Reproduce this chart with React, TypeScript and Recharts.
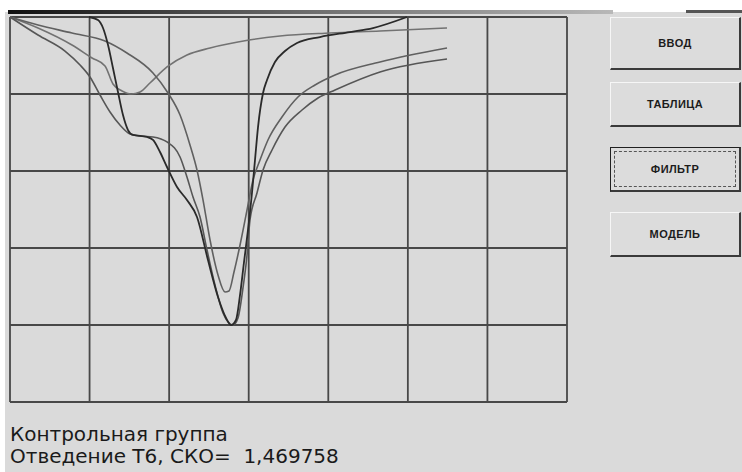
import React from "react";
import { LineChart, Line, XAxis, YAxis, ReferenceLine } from "recharts";

// Grid divisions (time along x, amplitude along y, 0 at the top edge)
const xTicks = [0, 1, 2, 3, 4, 5, 6, 7];
const yTicks = [0, -1, -2, -3, -4, -5];

// Traces as [x, y] pairs in grid units
const traceShallowDip: [number, number][] = [
  [0, 0], [0.352, -0.143], [0.779, -0.364], [1.031, -0.532], [1.194, -0.636],
  [1.294, -0.87], [1.408, -0.961], [1.521, -1.0], [1.634, -0.974], [1.759, -0.857],
  [1.973, -0.649], [2.224, -0.494], [2.514, -0.403], [3.004, -0.299], [3.393, -0.247],
  [4.022, -0.208], [4.65, -0.182], [5.492, -0.143],
];

const traceLate: [number, number][] = [
  [0, 0], [0.352, -0.104], [0.779, -0.208], [1.194, -0.312], [1.47, -0.468],
  [1.797, -0.727], [1.986, -0.987], [2.137, -1.273], [2.262, -1.662], [2.35, -1.987],
  [2.426, -2.377], [2.514, -2.896], [2.614, -3.351], [2.702, -3.571], [2.752, -3.558],
  [2.815, -3.312], [2.891, -2.961], [2.979, -2.506], [3.054, -2.117], [3.142, -1.857],
  [3.242, -1.597], [3.418, -1.299], [3.619, -1.039], [3.833, -0.883], [4.085, -0.753],
  [4.65, -0.584], [5.492, -0.403],
];

const tracePlateau: [number, number][] = [
  [0, 0], [0.352, -0.234], [0.691, -0.442], [0.88, -0.623], [1.005, -0.779],
  [1.131, -1.013], [1.257, -1.234], [1.382, -1.403], [1.508, -1.519], [1.634, -1.545],
  [1.797, -1.558], [1.973, -1.623], [2.137, -1.818], [2.224, -2.078], [2.3, -2.338],
  [2.388, -2.597], [2.476, -3.026], [2.576, -3.481], [2.677, -3.844], [2.803, -4.0],
  [2.865, -3.909], [2.928, -3.519], [2.979, -3.091], [3.016, -2.636], [3.104, -2.286],
  [3.18, -1.987], [3.293, -1.727], [3.456, -1.429], [3.67, -1.208], [3.871, -1.052],
  [4.085, -0.948], [4.65, -0.714], [5.492, -0.545],
];

const traceMain: [number, number][] = [
  [0.993, 0], [1.106, -0.039], [1.169, -0.143], [1.232, -0.364], [1.294, -0.662],
  [1.357, -0.974], [1.42, -1.273], [1.483, -1.468], [1.546, -1.532], [1.722, -1.558],
  [1.797, -1.597], [1.885, -1.753], [1.973, -1.948], [2.099, -2.208], [2.224, -2.377],
  [2.35, -2.597], [2.488, -3.156], [2.614, -3.636], [2.715, -3.909], [2.777, -4.0],
  [2.84, -3.935], [2.891, -3.61], [2.941, -3.182], [2.991, -2.766], [3.041, -2.286],
  [3.079, -1.857], [3.117, -1.429], [3.18, -0.987], [3.23, -0.818], [3.33, -0.584],
  [3.456, -0.442], [3.607, -0.338], [3.896, -0.26], [4.273, -0.195], [4.562, -0.143],
  [4.989, 0],
];

const buttons = ["ВВОД", "ТАБЛИЦА", "ФИЛЬТР", "МОДЕЛЬ"];
const captionGroup = "Контрольная группа";
const captionLead = "Отведение Т6, СКО=  1,469758";

const toPoints = (pairs: [number, number][]) => pairs.map(([x, y]) => ({ x, y }));

const series = [
  { name: "shallow", data: toPoints(traceShallowDip), color: "#727272", width: 1.6 },
  { name: "late", data: toPoints(traceLate), color: "#606060", width: 1.6 },
  { name: "plateau", data: toPoints(tracePlateau), color: "#565656", width: 1.6 },
  { name: "main", data: toPoints(traceMain), color: "#2a2a2a", width: 1.8 },
];

const W = 742;
const H = 472;

const buttonTops = [17, 82, 147, 212];
const buttonHeights = [53, 45, 45, 45];

function PanelButton({ label, top, height, focused }: { label: string; top: number; height: number; focused?: boolean }) {
  return (
    <div
      style={{
        position: "absolute",
        left: 610,
        top,
        width: 131,
        height,
        boxSizing: "border-box",
        background: "#dcdcdc",
        borderTop: focused ? "1px solid #202020" : "1px solid #f6f6f6",
        borderLeft: focused ? "1px solid #202020" : "1px solid #f6f6f6",
        borderRight: "2px solid #3a3a3a",
        borderBottom: "2px solid #3a3a3a",
        display: "flex",
        alignItems: "center",
        justifyContent: "center",
        fontFamily: "'Liberation Sans', Arial, sans-serif",
        fontSize: 11,
        fontWeight: 600,
        letterSpacing: 0.4,
        color: "#1c1c1c",
      }}
    >
      {focused && (
        <div
          style={{
            position: "absolute",
            left: 3,
            top: 3,
            right: 3,
            bottom: 3,
            border: "1px dashed #555",
          }}
        />
      )}
      {label}
    </div>
  );
}

export default function App() {
  return (
    <div style={{ position: "fixed", left: 0, top: 0, width: W, height: H, background: "#ffffff", overflow: "hidden" }}>
      <div style={{ position: "absolute", left: 5, top: 12, right: 0, bottom: 0, background: "#dadada" }} />
      <svg width={W} height={H} style={{ position: "absolute", left: 0, top: 0 }}>
        <defs>
          <linearGradient id="bar" x1="0" x2="1" y1="0" y2="0">
            <stop offset="0" stopColor="#101010" />
            <stop offset="0.5" stopColor="#6e6e6e" />
            <stop offset="1" stopColor="#b8b8b8" />
          </linearGradient>
        </defs>
        <rect x={8} y={10} width={605} height={4} fill="url(#bar)" />
        <rect x={686} y={10} width={56} height={3} fill="#555" />
        <text x={10} y={441} fontFamily="'DejaVu Sans', sans-serif" fontSize={20} fill="#1a1a1a">
          {captionGroup}
        </text>
        <text x={10} y={463} fontFamily="'DejaVu Sans', sans-serif" fontSize={20} fill="#1a1a1a" style={{ whiteSpace: "pre" }}>
          {captionLead}
        </text>
      </svg>
      <div style={{ position: "absolute", left: 0, top: 0 }}>
        <LineChart width={W} height={H} margin={{ top: 17, right: 175, bottom: 70, left: 10 }}>
          <XAxis type="number" dataKey="x" domain={[0, 7]} ticks={xTicks} hide />
          <YAxis type="number" dataKey="y" domain={[-5, 0]} ticks={yTicks} hide />
          {xTicks.map((t) => (
            <ReferenceLine key={`vx${t}`} x={t} stroke="#484848" strokeWidth={1.8} />
          ))}
          {yTicks.map((t) => (
            <ReferenceLine key={`hy${t}`} y={t} stroke="#484848" strokeWidth={1.8} />
          ))}
          {series.map((s) => (
            <Line
              key={s.name}
              data={s.data}
              dataKey="y"
              type="monotone"
              stroke={s.color}
              strokeWidth={s.width}
              dot={false}
              activeDot={false}
              isAnimationActive={false}
            />
          ))}
        </LineChart>
      </div>
      {buttons.map((b, i) => (
        <PanelButton key={b} label={b} top={buttonTops[i]} height={buttonHeights[i]} focused={b === "ФИЛЬТР"} />
      ))}
    </div>
  );
}
